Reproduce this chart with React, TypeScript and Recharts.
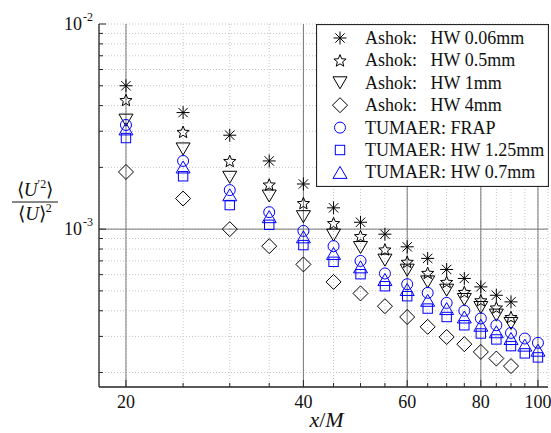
import React from "react";
import {
  ScatterChart,
  Scatter,
  XAxis,
  YAxis,
  CartesianGrid,
  ReferenceLine,
  Legend,
} from "recharts";

// x/M stations
const ashokX = [20, 25, 30, 35, 40, 45, 50, 55, 60, 65, 70, 75, 80, 85, 90];
const tumaerX = [20, 25, 30, 35, 40, 45, 50, 55, 60, 65, 70, 75, 80, 85, 90, 95, 100];

// <U'^2>/<U>^2
const ashokHw006 = [5.0e-3, 3.7e-3, 2.87e-3, 2.15e-3, 1.66e-3, 1.27e-3, 1.08e-3, 9.45e-4, 8.2e-4, 7.2e-4, 6.36e-4, 5.75e-4, 5.23e-4, 4.76e-4, 4.42e-4];
const ashokHw05 = [4.26e-3, 2.98e-3, 2.15e-3, 1.65e-3, 1.34e-3, 1.07e-3, 9.25e-4, 7.96e-4, 6.93e-4, 6.12e-4, 5.53e-4, 4.94e-4, 4.5e-4, 4.15e-4, 3.73e-4];
const ashokHw1 = [3.4e-3, 2.46e-3, 1.79e-3, 1.45e-3, 1.15e-3, 9.35e-4, 8.14e-4, 7.06e-4, 6.31e-4, 5.53e-4, 5.04e-4, 4.54e-4, 4.15e-4, 3.81e-4, 3.47e-4];
const ashokHw4 = [1.9e-3, 1.41e-3, 1.0e-3, 8.26e-4, 6.73e-4, 5.53e-4, 4.86e-4, 4.21e-4, 3.73e-4, 3.34e-4, 2.98e-4, 2.75e-4, 2.52e-4, 2.34e-4, 2.15e-4];
const tumaerFrap = [3.22e-3, 2.15e-3, 1.55e-3, 1.21e-3, 9.8e-4, 8.26e-4, 7.0e-4, 6.08e-4, 5.39e-4, 4.89e-4, 4.37e-4, 4.0e-4, 3.67e-4, 3.4e-4, 3.12e-4, 2.93e-4, 2.79e-4];
const tumaerHw125 = [2.78e-3, 1.81e-3, 1.31e-3, 1.05e-3, 8.36e-4, 6.93e-4, 6.03e-4, 5.27e-4, 4.71e-4, 4.1e-4, 3.73e-4, 3.4e-4, 3.1e-4, 2.9e-4, 2.69e-4, 2.48e-4, 2.37e-4];
const tumaerHw07 = [3.08e-3, 2.01e-3, 1.47e-3, 1.15e-3, 9.17e-4, 7.61e-4, 6.55e-4, 5.68e-4, 5.08e-4, 4.5e-4, 4.1e-4, 3.73e-4, 3.4e-4, 3.16e-4, 2.93e-4, 2.72e-4, 2.57e-4];

const xTicks = [20, 25, 30, 35, 40, 45, 50, 55, 60, 65, 70, 75, 80, 85, 90, 95, 100];
const xMajor = [20, 40, 60, 80, 100];
const yTicks = [
  2e-4, 3e-4, 4e-4, 5e-4, 6e-4, 7e-4, 8e-4, 9e-4, 1e-3,
  2e-3, 3e-3, 4e-3, 5e-3, 6e-3, 7e-3, 8e-3, 9e-3, 1e-2,
];
const yMajor = [1e-3, 1e-2];
const yMajorLabels = ["-3", "-2"];

const BLACK = "#000000";
const BLUE = "#0000ff";
const AXIS = "#262626";
const FONT = "'Liberation Serif', 'Times New Roman', serif";

type Kind = "asterisk" | "star" | "triDown" | "diamond" | "circle" | "square" | "triUp";

const pts = (xs: number[], ys: number[]) => xs.map((x, i) => ({ x, y: ys[i] }));

const series: { name: string; kind: Kind; color: string; data: { x: number; y: number }[] }[] = [
  { name: "Ashok:   HW 0.06mm", kind: "asterisk", color: BLACK, data: pts(ashokX, ashokHw006) },
  { name: "Ashok:   HW 0.5mm", kind: "star", color: BLACK, data: pts(ashokX, ashokHw05) },
  { name: "Ashok:   HW 1mm", kind: "triDown", color: BLACK, data: pts(ashokX, ashokHw1) },
  { name: "Ashok:   HW 4mm", kind: "diamond", color: BLACK, data: pts(ashokX, ashokHw4) },
  { name: "TUMAER: FRAP", kind: "circle", color: BLUE, data: pts(tumaerX, tumaerFrap) },
  { name: "TUMAER: HW 1.25mm", kind: "square", color: BLUE, data: pts(tumaerX, tumaerHw125) },
  { name: "TUMAER: HW 0.7mm", kind: "triUp", color: BLUE, data: pts(tumaerX, tumaerHw07) },
];

function Marker({ kind, cx, cy, color }: { kind: Kind; cx: number; cy: number; color: string }) {
  const common = { fill: "none", stroke: color, strokeWidth: 1 };
  switch (kind) {
    case "asterisk": {
      const r = 6.5;
      const d = r * 0.72;
      return (
        <g {...common}>
          <line x1={cx - r} y1={cy} x2={cx + r} y2={cy} />
          <line x1={cx} y1={cy - r} x2={cx} y2={cy + r} />
          <line x1={cx - d} y1={cy - d} x2={cx + d} y2={cy + d} />
          <line x1={cx - d} y1={cy + d} x2={cx + d} y2={cy - d} />
        </g>
      );
    }
    case "star": {
      const p: string[] = [];
      for (let i = 0; i < 10; i++) {
        const r = i % 2 === 0 ? 6.4 : 2.8;
        const a = -Math.PI / 2 + (i * Math.PI) / 5;
        p.push(`${cx + r * Math.cos(a)},${cy + 0.6 + r * Math.sin(a)}`);
      }
      return <polygon points={p.join(" ")} {...common} />;
    }
    case "triDown":
      return <polygon points={`${cx - 7},${cy - 6} ${cx + 7},${cy - 6} ${cx},${cy + 6}`} {...common} />;
    case "triUp":
      return <polygon points={`${cx - 7},${cy + 6} ${cx + 7},${cy + 6} ${cx},${cy - 6}`} {...common} />;
    case "diamond":
      return <polygon points={`${cx},${cy - 7.5} ${cx + 7.5},${cy} ${cx},${cy + 7.5} ${cx - 7.5},${cy}`} {...common} />;
    case "circle":
      return <circle cx={cx} cy={cy} r={5.5} {...common} />;
    case "square":
      return <rect x={cx - 4.7} y={cy - 4.7} width={9.4} height={9.4} {...common} />;
  }
  return null;
}

function BottomTick({ x, y, payload }: any) {
  const major = xMajor.includes(payload.value);
  return (
    <g>
      <line x1={x} x2={x} y1={y} y2={y - (major ? 7 : 4)} stroke={AXIS} />
      {major && (
        <text x={x} y={y + 21} textAnchor="middle" fontSize={18} fontFamily={FONT} fill="#111">
          {payload.value}
        </text>
      )}
    </g>
  );
}

function TopTick({ x, y, payload }: any) {
  const major = xMajor.includes(payload.value);
  return <line x1={x} x2={x} y1={y} y2={y + (major ? 7 : 4)} stroke={AXIS} />;
}

function LeftTick({ x, y, payload }: any) {
  const idx = yMajor.indexOf(payload.value);
  const major = idx >= 0;
  return (
    <g>
      <line x1={x} x2={x + (major ? 7 : 4)} y1={y} y2={y} stroke={AXIS} />
      {major && (
        <g fontFamily={FONT} fill="#111">
          <text x={x - 17} y={y + 6} textAnchor="end" fontSize={18}>10</text>
          <text x={x - 16} y={y - 3} fontSize={12}>{yMajorLabels[idx]}</text>
        </g>
      )}
    </g>
  );
}

function RightTick({ x, y, payload }: any) {
  const major = yMajor.includes(payload.value);
  return <line x1={x} x2={x - (major ? 7 : 4)} y1={y} y2={y} stroke={AXIS} />;
}

function YLabel(props: any) {
  const vb = props.viewBox;
  const cx = vb.x + 35;
  const cy = vb.y + 178;
  return (
    <g fontFamily={FONT} fill="#111" fontSize={19}>
      <text x={cx} y={cy - 6} textAnchor="middle">
        {"\u27e8"}
        <tspan fontStyle="italic">U</tspan>
        <tspan fontSize={12} dy={-8}>{"\u2032"}2</tspan>
        <tspan dy={8}>{"\u27e9"}</tspan>
      </text>
      <line x1={cx - 23} x2={cx + 23} y1={cy} y2={cy} stroke="#111" strokeWidth={1} />
      <text x={cx} y={cy + 18} textAnchor="middle">
        {"\u27e8"}
        <tspan fontStyle="italic">U</tspan>
        {"\u27e9"}
        <tspan fontSize={12} dy={-8}>2</tspan>
      </text>
    </g>
  );
}

function XLabel(props: any) {
  const vb = props.viewBox;
  return (
    <text x={vb.x + vb.width / 2 + 3} y={vb.y + 40} textAnchor="middle" fontFamily={FONT} fontSize={22} fill="#111">
      <tspan fontStyle="italic">x</tspan>/<tspan fontStyle="italic">M</tspan>
    </text>
  );
}

function LegendBox({ payload }: any) {
  const names = (payload || []).map((p: any) => p.value);
  const rows = series.filter((s) => names.includes(s.name));
  return (
    <svg width={233} height={163} style={{ display: "block" }}>
      <rect x={0.5} y={0.5} width={232} height={162} fill="#fff" stroke={AXIS} strokeWidth={1.2} />
      {rows.map((s, i) => {
        const cy = 14 + i * 22.4;
        return (
          <g key={s.name}>
            <Marker kind={s.kind} cx={24} cy={cy} color={s.color} />
            <text x={49} y={cy + 6} fontFamily={FONT} fontSize={18} fill="#111" style={{ whiteSpace: "pre" }}>
              {s.name}
            </text>
          </g>
        );
      })}
    </svg>
  );
}

export default function App() {
  return (
    <div style={{ position: "fixed", left: 0, top: 0, width: 551, height: 433, background: "#fff", fontFamily: FONT }}>
      <ScatterChart width={551} height={433} margin={{ top: 24, right: 3, bottom: 0, left: 0 }}>
        <CartesianGrid stroke="#c4c4c4" strokeDasharray="1 2" />
        {xMajor.map((v) => (
          <ReferenceLine key={`x${v}`} x={v} stroke="#777" strokeWidth={1} />
        ))}
        <ReferenceLine y={yMajor[0]} stroke="#777" strokeWidth={1} />
        <XAxis
          dataKey="x"
          type="number"
          scale="log"
          domain={[18, 104]}
          allowDataOverflow
          ticks={xTicks}
          interval={0}
          height={46}
          tickSize={0}
          tickMargin={0}
          tick={<BottomTick />}
          axisLine={{ stroke: AXIS, strokeWidth: 1.3 }}
          label={<XLabel />}
        />
        <XAxis
          xAxisId="top"
          orientation="top"
          type="number"
          scale="log"
          domain={[18, 104]}
          allowDataOverflow
          ticks={xTicks}
          interval={0}
          height={0}
          tickSize={0}
          tickMargin={0}
          tick={<TopTick />}
          axisLine={{ stroke: AXIS, strokeWidth: 1.3 }}
        />
        <YAxis
          dataKey="y"
          type="number"
          scale="log"
          domain={[1.7e-4, 1e-2]}
          allowDataOverflow
          ticks={yTicks}
          interval={0}
          width={99}
          tickSize={0}
          tickMargin={0}
          tick={<LeftTick />}
          axisLine={{ stroke: AXIS, strokeWidth: 1.3 }}
          label={<YLabel />}
        />
        <YAxis
          yAxisId="right"
          orientation="right"
          type="number"
          scale="log"
          domain={[1.7e-4, 1e-2]}
          allowDataOverflow
          ticks={yTicks}
          interval={0}
          width={0}
          tickSize={0}
          tickMargin={0}
          tick={<RightTick />}
          axisLine={{ stroke: AXIS, strokeWidth: 1.3 }}
        />
        {series.map((s) => (
          <Scatter
            key={s.name}
            name={s.name}
            data={s.data}
            fill={s.color}
            isAnimationActive={false}
            shape={(p: any) => <Marker kind={s.kind} cx={p.cx} cy={p.cy} color={s.color} />}
          />
        ))}
        <Legend
          layout="vertical"
          align="center"
          verticalAlign="middle"
          wrapperStyle={{ top: 24, left: 316, width: 233, height: 163 }}
          content={<LegendBox />}
        />
      </ScatterChart>
    </div>
  );
}
